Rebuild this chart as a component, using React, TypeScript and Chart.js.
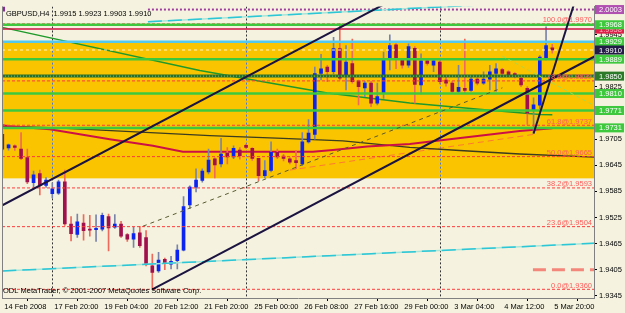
import React, { useEffect, useRef } from "react";
import { Chart, registerables } from "chart.js";

Chart.register(...registerables);

// ---------- data ----------
const timeTickBars = [0, 8, 16, 24, 32, 40, 48, 56, 64, 72, 80, 88];
const timeTickLabels = [
  "14 Feb 2008", "17 Feb 20:00", "19 Feb 04:00", "20 Feb 12:00", "21 Feb 20:00", "25 Feb 00:00",
  "26 Feb 08:00", "27 Feb 16:00", "29 Feb 00:00", "3 Mar 04:00", "4 Mar 12:00", "5 Mar 20:00",
];
const priceTicks = [1.9345, 1.9405, 1.9465, 1.9525, 1.9585, 1.9645, 1.9705, 1.9765, 1.9825, 1.9885, 1.9945, 2.0005];

const opens = [
  1.9716, 1.9685, 1.9690, 1.9682, 1.9663, 1.9605, 1.9626, 1.9599, 1.9580, 1.9581,
  1.9607, 1.9510, 1.9486, 1.9512, 1.9498, 1.9497, 1.9498, 1.9527, 1.9503, 1.9510,
  1.9486, 1.9475, 1.9490, 1.9479, 1.9414, 1.9402, 1.9429, 1.9418, 1.9426, 1.9450,
  1.9554, 1.9595, 1.9610, 1.9630, 1.9660, 1.9648, 1.9673, 1.9664, 1.9680, 1.9691,
  1.9684, 1.9661, 1.9621, 1.9633, 1.9675, 1.9666, 1.9660, 1.9656, 1.9648, 1.9699,
  1.9716, 1.9856, 1.9871, 1.9860, 1.9913, 1.9852, 1.9879, 1.9839, 1.9823, 1.9834,
  1.9788, 1.9811, 1.9890, 1.9922, 1.9886, 1.9875, 1.9914, 1.9830, 1.9885, 1.9875,
  1.9882, 1.9841, 1.9834, 1.9815, 1.9822, 1.9817, 1.9843, 1.9834, 1.9843, 1.9856,
  1.9865, 1.9860, 1.9856, 1.9845, 1.9822, 1.9773, 1.9783, 1.9890, 1.9915,
];
const highs = [
  1.9724, 1.9694, 1.9692, 1.9720, 1.9682, 1.9632, 1.9634, 1.9617, 1.9605, 1.9611,
  1.9634, 1.9527, 1.9533, 1.9532, 1.9530, 1.9531, 1.9535, 1.9533, 1.9532, 1.9516,
  1.9488, 1.9503, 1.9505, 1.9495, 1.9441, 1.9445, 1.9432, 1.9436, 1.9462, 1.9573,
  1.9598, 1.9637, 1.9637, 1.9682, 1.9662, 1.9707, 1.9686, 1.9690, 1.9686, 1.9694,
  1.9686, 1.9661, 1.9656, 1.9699, 1.9682, 1.9670, 1.9663, 1.9679, 1.9720, 1.9750,
  1.9871, 1.9900, 1.9875, 1.9939, 1.9970, 1.9920, 1.9935, 1.9841, 1.9838, 1.9838,
  1.9834, 1.9905, 1.9945, 1.9925, 1.9890, 1.9924, 1.9918, 1.9901, 1.9888, 1.9888,
  1.9885, 1.9848, 1.9838, 1.9875, 1.9935, 1.9848, 1.9846, 1.9860, 1.9875, 1.9879,
  1.9868, 1.9863, 1.9858, 1.9850, 1.9826, 1.9800, 1.9897, 1.9963, 1.9923,
];
const lows = [
  1.9678, 1.9680, 1.9679, 1.9658, 1.9603, 1.9595, 1.9577, 1.9594, 1.9570, 1.9578,
  1.9507, 1.9471, 1.9479, 1.9473, 1.9482, 1.9470, 1.9494, 1.9448, 1.9500, 1.9479,
  1.9470, 1.9456, 1.9456, 1.9414, 1.9360, 1.9399, 1.9405, 1.9407, 1.9407, 1.9448,
  1.9546, 1.9584, 1.9606, 1.9625, 1.9616, 1.9641, 1.9648, 1.9660, 1.9659, 1.9684,
  1.9656, 1.9609, 1.9616, 1.9630, 1.9660, 1.9655, 1.9648, 1.9637, 1.9645, 1.9696,
  1.9705, 1.9841, 1.9837, 1.9855, 1.9841, 1.9818, 1.9834, 1.9784, 1.9803, 1.9780,
  1.9784, 1.9799, 1.9864, 1.9867, 1.9868, 1.9870, 1.9788, 1.9809, 1.9875, 1.9860,
  1.9832, 1.9827, 1.9812, 1.9812, 1.9812, 1.9815, 1.9830, 1.9831, 1.9818, 1.9815,
  1.9852, 1.9850, 1.9846, 1.9826, 1.9739, 1.9718, 1.9770, 1.9887, 1.9903,
];
const closes = [
  1.9682, 1.9692, 1.9686, 1.9661, 1.9607, 1.9623, 1.9599, 1.9611, 1.9591, 1.9607,
  1.9510, 1.9488, 1.9515, 1.9495, 1.9496, 1.9500, 1.9530, 1.9501, 1.9510, 1.9482,
  1.9475, 1.9488, 1.9460, 1.9418, 1.9399, 1.9427, 1.9420, 1.9424, 1.9450, 1.9550,
  1.9595, 1.9611, 1.9632, 1.9657, 1.9646, 1.9671, 1.9664, 1.9684, 1.9667, 1.9686,
  1.9661, 1.9621, 1.9633, 1.9675, 1.9664, 1.9661, 1.9652, 1.9651, 1.9699, 1.9719,
  1.9856, 1.9867, 1.9860, 1.9913, 1.9845, 1.9882, 1.9837, 1.9826, 1.9834, 1.9788,
  1.9803, 1.9890, 1.9920, 1.9890, 1.9875, 1.9918, 1.9831, 1.9885, 1.9879, 1.9885,
  1.9837, 1.9834, 1.9815, 1.9824, 1.9817, 1.9843, 1.9834, 1.9843, 1.9860, 1.9867,
  1.9856, 1.9852, 1.9850, 1.9830, 1.9765, 1.9784, 1.9894, 1.9920, 1.9910,
];

// indicator lines (bar position, price)
const redMABars = [0, 1.2, 7.6, 17.2, 24.1, 28.9, 33.2, 49.7, 52.9, 58.4, 65.2, 71.6, 82.8, 88];
const redMAValues = [1.9737, 1.9735, 1.9728, 1.9705, 1.9690, 1.9676, 1.9676, 1.9676, 1.9680, 1.9688, 1.9694, 1.9705, 1.9724, 1.9730];
const oliveBars = [0, 8.7, 33.2, 44.9, 54.5, 65.2, 73.2, 82.8, 94.7];
const oliveValues = [1.9735, 1.9731, 1.9713, 1.9707, 1.9701, 1.9686, 1.9679, 1.9671, 1.9664];
const greenMABars = [0, 31.6, 43.3, 52, 65.2, 77.6, 86, 88];
const greenMAValues = [1.9962, 1.9863, 1.9833, 1.9811, 1.9788, 1.9772, 1.9762, 1.9761];

// horizontal objects
const greenLevels = [1.9968, 1.9889, 1.9810, 1.9771, 1.9731];
const darkGreenLevel = 1.9850;
const cyanLevel = 1.9929;
const redLevel = 1.9958;
const bidLevel = 1.9910;
const purpleLevel = 2.0003;
const bandTop = 1.9927;
const bandBottom = 1.9615;
const fibPercents = [0, 23.6, 38.2, 50, 61.8, 78.6, 100];
const fibPrices = [1.9360, 1.9504, 1.9593, 1.9665, 1.9737, 1.9839, 1.9970];
const separatorBars = [8, 39, 70];
const salmonLevel = 1.9405;
const salmonStartBar = 84.9;

// trend lines: [bar, price] end points
const channelUpper = [[0, 1.9553], [62, 2.0022]];
const channelLower = [[24, 1.9360], [95, 1.9897]];
const steepLine = [[85, 1.9718], [92, 2.0040]];
const cyanLower = [[0, 1.9402], [95, 1.9466]];
const cyanUpper = [[23.3, 1.9975], [95, 2.0027]];
const dashedRise = [[22.5, 1.9505], [80, 1.9823]];
const orangeDashed = [[46, 1.9634], [85, 1.9716]];
const greenDashed = [[80, 1.9896], [95, 1.9780]];

// right-axis boxes
const greenBoxLevels = [1.9968, 1.9929, 1.9889, 1.9810, 1.9771, 1.9731];

const titleText = "GBPUSD,H4  1.9915 1.9923 1.9903 1.9910";
const copyrightText = "ODL MetaTrader, \u00a9 2001-2007 MetaQuotes Software Corp.";

// ---------- styles ----------
const FONT = "'Liberation Sans', Arial, sans-serif";
const CREAM = "#f5f3df";
const X_MIN = -0.05;
const X_MAX = 94.67;
const Y_MIN = 1.9340;
const Y_MAX = 2.0010;

function drawSeg(ctx: CanvasRenderingContext2D, x1: number, y1: number, x2: number, y2: number) {
  ctx.beginPath();
  ctx.moveTo(x1, y1);
  ctx.lineTo(x2, y2);
  ctx.stroke();
}

const mt4Plugin = {
  id: "mt4",
  beforeDraw(chart: any) {
    const { ctx, width, height } = chart;
    ctx.save();
    ctx.fillStyle = CREAM;
    ctx.fillRect(0, 0, width, height);
    ctx.restore();
  },
  beforeDatasetsDraw(chart: any) {
    const ctx: CanvasRenderingContext2D = chart.ctx;
    const a = chart.chartArea;
    const xs = chart.scales.x;
    const ys = chart.scales.y;
    const X = (b: number) => xs.getPixelForValue(b);
    const Y = (p: number) => ys.getPixelForValue(p);
    ctx.save();
    ctx.beginPath();
    ctx.rect(a.left, a.top, a.right - a.left, a.bottom - a.top);
    ctx.clip();
    const yt = Y(bandTop);
    const yb = Y(bandBottom);
    ctx.fillStyle = "#fac400";
    ctx.fillRect(a.left, yt, a.right - a.left, yb - yt);
    ctx.lineWidth = 1;
    for (const b of separatorBars) {
      const x = Math.round(X(b)) + 0.5;
      ctx.setLineDash([2, 2]);
      ctx.strokeStyle = "#333333";
      drawSeg(ctx, x, a.top, x, yt);
      drawSeg(ctx, x, yb, x, a.bottom);
      ctx.strokeStyle = "#4f74c8";
      drawSeg(ctx, x, yt, x, yb);
    }
    // orange dashed helper line (behind candles)
    ctx.strokeStyle = "#ff7a30";
    ctx.lineWidth = 1;
    ctx.setLineDash([6, 4]);
    drawSeg(ctx, X(orangeDashed[0][0]), Y(orangeDashed[0][1]), X(orangeDashed[1][0]), Y(orangeDashed[1][1]));
    ctx.restore();
  },
  afterDatasetsDraw(chart: any) {
    const ctx: CanvasRenderingContext2D = chart.ctx;
    const a = chart.chartArea;
    const xs = chart.scales.x;
    const ys = chart.scales.y;
    const X = (b: number) => xs.getPixelForValue(b);
    const Y = (p: number) => ys.getPixelForValue(p);
    ctx.save();
    ctx.beginPath();
    ctx.rect(a.left, a.top, a.right - a.left, a.bottom - a.top);
    ctx.clip();

    const hline = (p: number, color: string, w: number, dash: number[] = [], x0 = a.left) => {
      ctx.strokeStyle = color;
      ctx.lineWidth = w;
      ctx.setLineDash(dash);
      drawSeg(ctx, x0, Y(p), a.right, Y(p));
    };
    const tline = (pts: number[][], color: string, w: number, dash: number[] = []) => {
      ctx.strokeStyle = color;
      ctx.lineWidth = w;
      ctx.setLineDash(dash);
      drawSeg(ctx, X(pts[0][0]), Y(pts[0][1]), X(pts[1][0]), Y(pts[1][1]));
    };

    fibPrices.forEach((p) => hline(p, "#ff3b3b", 1, [3, 2]));
    hline(bidLevel, "#fff3c0", 1, [3, 3]);
    hline(purpleLevel, "#a03ca0", 2, [2, 2], X(23.3));
    tline(cyanLower, "#a6e6da", 1.5);
    tline(cyanLower, "#2cc6d6", 1.5, [14, 6]);
    tline(cyanUpper, "#a6e6da", 1.5);
    tline(cyanUpper, "#2cc6d6", 1.5, [14, 6]);
    greenLevels.forEach((p) => hline(p, "#3ec83e", 2.5));
    hline(cyanLevel, "#55c8ee", 2.5);
    hline(redLevel, "#cc1040", 1.5);
    hline(darkGreenLevel, "#2a6e2a", 3);
    hline(darkGreenLevel, "#79c879", 1, [1, 2]);
    hline(salmonLevel, "#f4877c", 3, [13, 6], X(salmonStartBar));
    tline(dashedRise, "#5a5a30", 1, [4, 4]);
    tline(greenDashed, "#a6d84a", 1, [4, 3]);
    tline(channelUpper, "#1c1440", 2);
    tline(channelLower, "#1c1440", 2);
    tline(steepLine, "#1c1440", 2);

    ctx.setLineDash([]);
    ctx.font = `7.5px ${FONT}`;
    ctx.fillStyle = "#ff5a5a";
    ctx.textAlign = "right";
    ctx.textBaseline = "alphabetic";
    fibPrices.forEach((p, i) => {
      ctx.fillText(`${fibPercents[i].toFixed(1)}@${p.toFixed(4)}`, a.right - 2, Y(p) - 1.5);
    });

    ctx.fillStyle = "#000";
    ctx.textAlign = "left";
    ctx.textBaseline = "middle";
    ctx.font = `7.5px ${FONT}`;
    ctx.fillText(titleText, a.left + 4, a.top + 7);
    ctx.fillText(copyrightText, a.left + 1, a.bottom - 7);
    ctx.fillStyle = "#8a2a9a";
    ctx.fillRect(a.left, a.top, 3, 5);
    ctx.restore();
  },
  afterDraw(chart: any) {
    const ctx: CanvasRenderingContext2D = chart.ctx;
    const a = chart.chartArea;
    const ys = chart.scales.y;
    const Y = (p: number) => ys.getPixelForValue(p);
    ctx.save();
    ctx.strokeStyle = "#808080";
    ctx.lineWidth = 1;
    drawSeg(ctx, a.left + 0.5, a.top, a.left + 0.5, a.bottom);
    const box = (p: number, bg: string, fg: string) => {
      const y = Y(p);
      ctx.fillStyle = bg;
      ctx.fillRect(a.right + 1, y - 4.5, 29, 9);
      ctx.fillStyle = fg;
      ctx.font = `7.5px ${FONT}`;
      ctx.textAlign = "left";
      ctx.textBaseline = "middle";
      ctx.fillText(p.toFixed(4), a.right + 5, y + 0.5);
    };
    box(purpleLevel, "#b050b0", "#ffffff");
    box(redLevel, "#e0204a", "#ffb0c0");
    greenBoxLevels.forEach((p) => box(p, "#3ec83e", "#ffffff"));
    box(darkGreenLevel, "#2a7a2a", "#ffffff");
    box(bidLevel, "#241c48", "#ffffff");
    ctx.restore();
  },
};

export default function App() {
  const ref = useRef<HTMLCanvasElement | null>(null);
  useEffect(() => {
    const canvas = ref.current;
    if (!canvas) return;
    const idx = opens.map((_, i) => i);
    const up = idx.map((i) => closes[i] >= opens[i]);
    const line = (bars: number[], vals: number[], color: string, w: number, order: number) => ({
      type: "line" as const,
      data: bars.map((b, i) => ({ x: b, y: vals[i] })),
      borderColor: color,
      borderWidth: w,
      pointRadius: 0,
      tension: 0,
      order,
    });
    const chart = new Chart(canvas, {
      type: "bar",
      data: {
        datasets: [
          line(oliveBars, oliveValues, "#3c3c1e", 1.3, 6),
          line(redMABars, redMAValues, "#cc1046", 2, 5),
          line(greenMABars, greenMAValues, "#1f9a2a", 1.5, 4),
          {
            type: "bar",
            data: idx.map((i) => ({ x: i, y: [lows[i], highs[i]] })),
            backgroundColor: idx.map((i) => (up[i] ? "#7a84aa" : "#f06a5c")),
            barThickness: 1,
            grouped: false,
            order: 3,
          } as any,
          {
            type: "bar",
            data: idx.map((i) => ({ x: i, y: [opens[i], closes[i]] })),
            backgroundColor: idx.map((i) => (up[i] ? "#0b24f0" : "#a0104c")),
            barThickness: 3,
            minBarLength: 1,
            grouped: false,
            order: 2,
          } as any,
        ],
      },
      options: {
        responsive: false,
        animation: false,
        events: [],
        layout: { padding: { left: 2, top: 2, right: 0, bottom: 0 } },
        plugins: { legend: { display: false }, tooltip: { enabled: false } },
        scales: {
          x: {
            type: "linear",
            min: X_MIN,
            max: X_MAX,
            offset: false,
            afterBuildTicks: (s: any) => {
              s.ticks = timeTickBars.map((v) => ({ value: v }));
            },
            afterFit: (s: any) => {
              s.height = 15;
            },
            grid: { drawOnChartArea: false, drawTicks: true, tickLength: 3, color: "#000" },
            border: { display: true, color: "#808080" },
            ticks: {
              autoSkip: false,
              maxRotation: 0,
              minRotation: 0,
              align: "start",
              labelOffset: 2,
              padding: 1,
              color: "#000",
              font: { family: FONT, size: 7.5 },
              callback: (v: any) => {
                const k = timeTickBars.indexOf(Number(v));
                return k >= 0 ? timeTickLabels[k] : "";
              },
            },
          },
          y: {
            type: "linear",
            position: "right",
            min: Y_MIN,
            max: Y_MAX,
            afterBuildTicks: (s: any) => {
              s.ticks = priceTicks.map((v) => ({ value: v }));
            },
            afterFit: (s: any) => {
              s.width = 31;
            },
            grid: { drawOnChartArea: false, drawTicks: true, tickLength: 3, color: "#000" },
            border: { display: true, color: "#808080" },
            ticks: {
              padding: 2,
              color: "#000",
              font: { family: FONT, size: 7.5 },
              callback: (v: any) => Number(v).toFixed(4),
            },
          },
        },
      } as any,
      plugins: [mt4Plugin],
    });
    return () => chart.destroy();
  }, []);
  return (
    <div style={{ position: "fixed", left: 0, top: 0, width: 625, height: 313 }}>
      <canvas ref={ref} width={625} height={313} style={{ display: "block" }} />
    </div>
  );
}
